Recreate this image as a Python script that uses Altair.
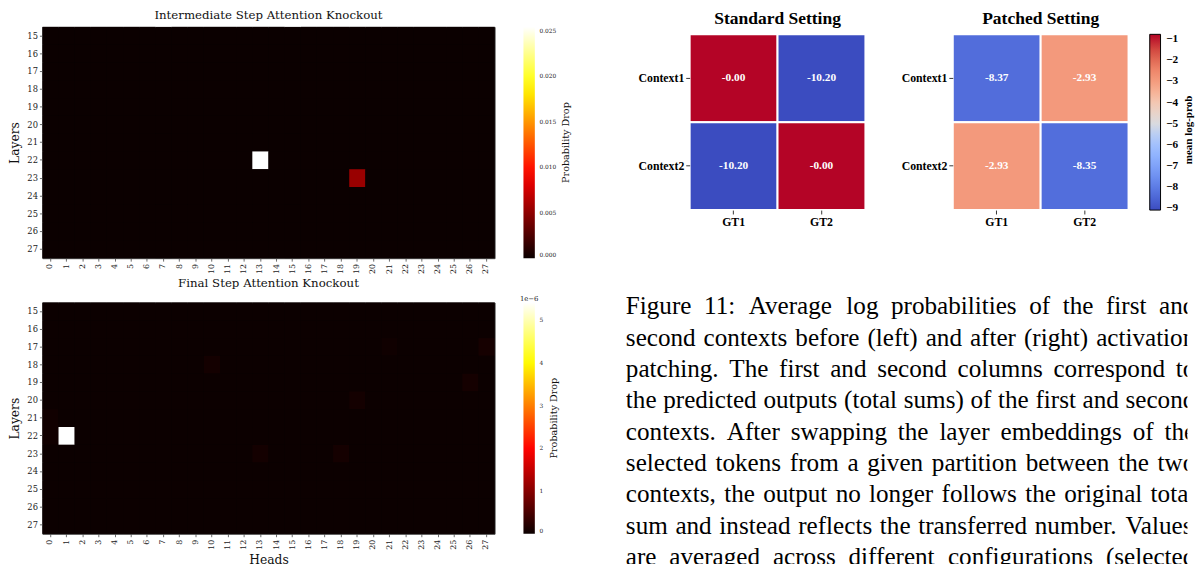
import altair as alt
import numpy as np
import pandas as pd

# ---------------- data ----------------
heads = list(range(28))
layers = list(range(15, 28))

# Intermediate step attention knockout: cells that stand out (head, layer, drop)
inter_heads = [13, 19]
inter_layers = [22, 23]
inter_values = [0.02543, 0.0054]
inter_background = 0.0
inter_max = 0.02543

# Final step attention knockout
final_heads = [1, 27, 21, 10, 26, 19, 0, 0, 13, 18]
final_layers = [22, 17, 17, 18, 19, 20, 21, 22, 23, 23]
final_values = [5.42e-6, 0.09e-6, 0.04e-6, 0.07e-6, 0.08e-6, 0.07e-6, 0.05e-6, 0.045e-6, 0.07e-6, 0.08e-6]
final_background = 0.012e-6
final_max = 5.42e-6

contexts = ["Context1", "Context2"]
gts = ["GT1", "GT2"]
standard_values = [[-0.001, -10.20], [-10.20, -0.001]]
patched_values = [[-8.37, -2.93], [-2.93, -8.35]]
logprob_domain = [-9.09, -0.77]
logprob_ticks = [-1, -2, -3, -4, -5, -6, -7, -8, -9]

caption_lines = [
    "Figure 11: Average log probabilities of the first and",
    "second contexts before (left) and after (right) activation",
    "patching. The first and second columns correspond to",
    "the predicted outputs (total sums) of the first and second",
    "contexts. After swapping the layer embeddings of the",
    "selected tokens from a given partition between the two",
    "contexts, the output no longer follows the original total",
    "sum and instead reflects the transferred number. Values",
    "are averaged across different configurations (selected",
]

# ---------------- styles ----------------
SERIF = "DejaVu Serif"
TIMES = "Liberation Serif"
HOT = ["#0b0000", "#ff0000", "#ffff00", "#ffffff"]
HOT_STOPS = [0.0, 0.365079, 0.746032, 1.0]
COOLWARM = ["#3b4cc0", "#5572df", "#7093f3", "#8db0fe", "#aac7fd", "#dddcdc",
            "#f2cbb7", "#f7a889", "#ee8468", "#d65244", "#b40426"]
PLOT_W, PLOT_H = 460.6, 235.6
CELL = 179
DROP = 7.6          # extra room above the small heatmaps
CB_OFFSET = 29.4
CAP_SIZE = 25.6
CAP_VIEW_W = 572
CAP_JUSTIFY_W = 580   # width of the justified text column (it runs past the page edge)

# Times / Liberation Serif advance widths (1/1000 em) used to justify the caption lines
TIMES_W = {" ": 250, "(": 333, ")": 333, ",": 250, ".": 250, ":": 278, "-": 333,
           "0": 500, "1": 500, "2": 500, "3": 500, "4": 500, "5": 500, "6": 500, "7": 500,
           "8": 500, "9": 500, "A": 722, "F": 556, "S": 556, "T": 611, "V": 722,
           "a": 444, "b": 500, "c": 444, "d": 500, "e": 444, "f": 333, "g": 500, "h": 500,
           "i": 278, "j": 278, "k": 500, "l": 278, "m": 778, "n": 500, "o": 500, "p": 500,
           "q": 500, "r": 333, "s": 389, "t": 278, "u": 500, "v": 500, "w": 722, "x": 500,
           "y": 500, "z": 444}


def annotation(text, x, y, font, size, weight="normal", angle=0, color="#111"):
    return alt.Chart(pd.DataFrame({"t": [text]})).mark_text(
        font=font, fontSize=size, fontWeight=weight, color=color, align="center",
        baseline="middle", angle=angle
    ).encode(x=alt.value(x), y=alt.value(y), text="t:N")


def knock_df(hs, ls, vs, base):
    special = {(h, l): v for h, l, v in zip(hs, ls, vs)}
    return pd.DataFrame(
        [{"head": h, "layer": l, "drop": special.get((h, l), base)} for l in layers for h in heads]
    )


def knock_chart(df, vmax, legend_values, label_expr, x_title):
    x_axis = alt.Axis(labelAngle=270, labelFont=SERIF, labelFontSize=8, labelColor="#222",
                      tickSize=3, tickColor="#444", tickWidth=0.8, labelPadding=2.5,
                      domain=False, grid=False, title=x_title, titleFont=SERIF,
                      titleFontSize=12.5, titleFontWeight="normal", titleColor="#111",
                      titlePadding=5)
    y_axis = alt.Axis(labelFont=SERIF, labelFontSize=8.5, labelColor="#222", tickSize=3,
                      tickColor="#444", tickWidth=0.8, labelPadding=2, domain=False,
                      grid=False, title="Layers", titleFont=SERIF, titleFontSize=12.5,
                      titleFontWeight="normal", titleColor="#111", titlePadding=5)
    legend = alt.Legend(orient="right", offset=CB_OFFSET, direction="vertical",
                        gradientLength=PLOT_H, gradientThickness=11.6, gradientStrokeWidth=0,
                        values=legend_values, labelExpr=label_expr, labelFont=SERIF,
                        labelFontSize=6, labelColor="#222", labelOffset=4.7,
                        labelBaseline="middle", labelOverlap=False, title=None)
    return alt.Chart(df).mark_rect().encode(
        x=alt.X("head:O", sort=heads, scale=alt.Scale(paddingInner=0, paddingOuter=0), axis=x_axis),
        y=alt.Y("layer:O", sort=layers, scale=alt.Scale(paddingInner=0, paddingOuter=0), axis=y_axis),
        color=alt.Color("drop:Q",
                        scale=alt.Scale(domain=[s * vmax for s in HOT_STOPS], range=HOT,
                                        interpolate="rgb", clamp=True),
                        legend=legend),
    )


def knock_title(text):
    return alt.TitleParams(text, font=SERIF, fontSize=12, fontWeight="normal", color="#111",
                           anchor="middle", offset=5)


frame = alt.ViewBackground(stroke="#444", strokeWidth=1, fill="#0b0000")

top_df = knock_df(inter_heads, inter_layers, inter_values, inter_background)
top_heat = knock_chart(top_df, inter_max, [0, 0.005, 0.01, 0.015, 0.02, 0.025],
                       "format(datum.value, '.3f')", None)
top_chart = alt.layer(
    top_heat,
    annotation("Probability Drop", 533.8, PLOT_H / 2, SERIF, 9.8, angle=270),
).properties(width=PLOT_W, height=PLOT_H,
             title=knock_title("Intermediate Step Attention Knockout"), view=frame)

bot_df = knock_df(final_heads, final_layers, final_values, final_background)
bot_heat = knock_chart(bot_df, final_max, [0, 1e-6, 2e-6, 3e-6, 4e-6, 5e-6],
                       "format(datum.value * 1e6, 'd')", "Heads")
bot_chart = alt.layer(
    bot_heat,
    annotation("1e\u22126", PLOT_W + CB_OFFSET + 5.8, -4, SERIF, 7, color="#222"),
    annotation("Probability Drop", 520.7, PLOT_H / 2, SERIF, 9.8, angle=270),
).properties(width=PLOT_W, height=PLOT_H,
             title=knock_title("Final Step Attention Knockout"), view=frame)

left_col = alt.vconcat(top_chart, bot_chart, spacing=1.7).resolve_scale(color="independent")


def setting_df(vals):
    rows = []
    for i, c in enumerate(contexts):
        for j, g in enumerate(gts):
            v = vals[i][j]
            rows.append({"ctx": c, "gt": g, "logprob": v, "label": f"{v:.2f}"})
    return pd.DataFrame(rows)


def setting_chart(vals, title, show_legend):
    df = setting_df(vals)
    y_axis = alt.Axis(labelFont=TIMES, labelFontSize=12, labelFontWeight="bold",
                      labelColor="black", tickSize=4, tickColor="black", tickWidth=0.8,
                      labelPadding=2, domain=False, grid=False, title=None)
    x_axis = alt.Axis(labelFont=TIMES, labelFontSize=12, labelFontWeight="bold",
                      labelColor="black", labelAngle=0, tickSize=4, tickColor="black",
                      tickWidth=0.8, labelPadding=3, domain=False, grid=False, title=None)
    scale = alt.Scale(domain=list(np.linspace(logprob_domain[0], logprob_domain[1], len(COOLWARM))),
                      range=COOLWARM, interpolate="rgb", clamp=True)
    if show_legend:
        legend = alt.Legend(orient="none", legendX=CELL + 21.6, legendY=DROP,
                            direction="vertical", gradientLength=CELL, gradientThickness=11,
                            gradientStrokeColor="black", gradientStrokeWidth=1,
                            values=logprob_ticks, format="d", labelFont=TIMES,
                            labelFontSize=11.5, labelFontWeight="bold", labelColor="black",
                            labelOffset=5.7, labelBaseline="middle", labelOverlap=False,
                            title=None)
        color = alt.Color("logprob:Q", scale=scale, legend=legend)
    else:
        color = alt.Color("logprob:Q", scale=scale, legend=None)
    base = alt.Chart(df).encode(
        x=alt.X("gt:N", sort=gts, scale=alt.Scale(paddingInner=0, paddingOuter=0), axis=x_axis),
        y=alt.Y("ctx:N", sort=contexts,
                scale=alt.Scale(paddingInner=0, paddingOuter=0, range=[DROP, DROP + CELL]),
                axis=y_axis),
    )
    rect = base.mark_rect(stroke="white", strokeWidth=2).encode(color=color)
    text = base.mark_text(font=TIMES, fontSize=11.5, fontWeight="bold", color="white").encode(
        text="label:N")
    layers_ = [rect, text]
    if show_legend:
        layers_.append(annotation("mean log-prob", 240.4, 97.4 + DROP, TIMES, 11.2,
                                  weight="bold", angle=270, color="black"))
    return alt.layer(*layers_).properties(
        width=CELL, height=CELL + DROP,
        title=alt.TitleParams(title, font=TIMES, fontSize=17.8, fontWeight="bold", color="black",
                              anchor="middle", offset=-0.8))


# invisible 1px spacer that fixes where the right column (and the caption) starts
spacer = alt.Chart(pd.DataFrame({"s": [""]})).mark_text(opacity=0).encode(
    x=alt.value(0), y=alt.value(0), text="s:N"
).properties(width=1, height=CELL)

std_chart = setting_chart(standard_values, "Standard Setting", False)
pat_chart = setting_chart(patched_values, "Patched Setting", True)
row1 = alt.hconcat(spacer, std_chart, spacing=9).resolve_scale(color="independent")
row1 = alt.hconcat(row1, pat_chart, spacing=33).resolve_scale(color="independent")


# caption: lines are justified word by word, like the typeset paragraph; the column runs
# past the page edge and is clipped there
def word_width(word):
    return sum(TIMES_W.get(ch, 500) for ch in word) / 1000 * CAP_SIZE


cap_rows = []
for i, line in enumerate(caption_lines):
    words = line.split(" ")
    widths = [word_width(w) for w in words]
    gap = (CAP_JUSTIFY_W - sum(widths)) / (len(words) - 1)
    pos = 0.0
    for w, wd in zip(words, widths):
        cap_rows.append({"line": i, "word": w, "pos": pos})
        pos += wd + gap
cap_df = pd.DataFrame(cap_rows)

caption_chart = alt.Chart(cap_df).mark_text(
    align="left", baseline="middle", font=TIMES, fontSize=CAP_SIZE, color="black", clip=True
).encode(
    x=alt.X("pos:Q", scale=alt.Scale(domain=[0, CAP_VIEW_W], nice=False, zero=False), axis=None),
    y=alt.Y("line:Q", scale=alt.Scale(domain=[-0.5, 8.22], reverse=True), axis=None),
    text="word:N",
).properties(width=CAP_VIEW_W, height=278.2)

right_col = alt.vconcat(row1, caption_chart, spacing=61.8).resolve_scale(color="independent")

chart = alt.hconcat(left_col, right_col, spacing=53.3).resolve_scale(color="independent").properties(
    padding={"left": 0, "top": -5, "right": 0, "bottom": 0}, background="white"
).configure_view(stroke="transparent")

chart.save("out.html", embed_options={"renderer": "svg", "actions": False})
